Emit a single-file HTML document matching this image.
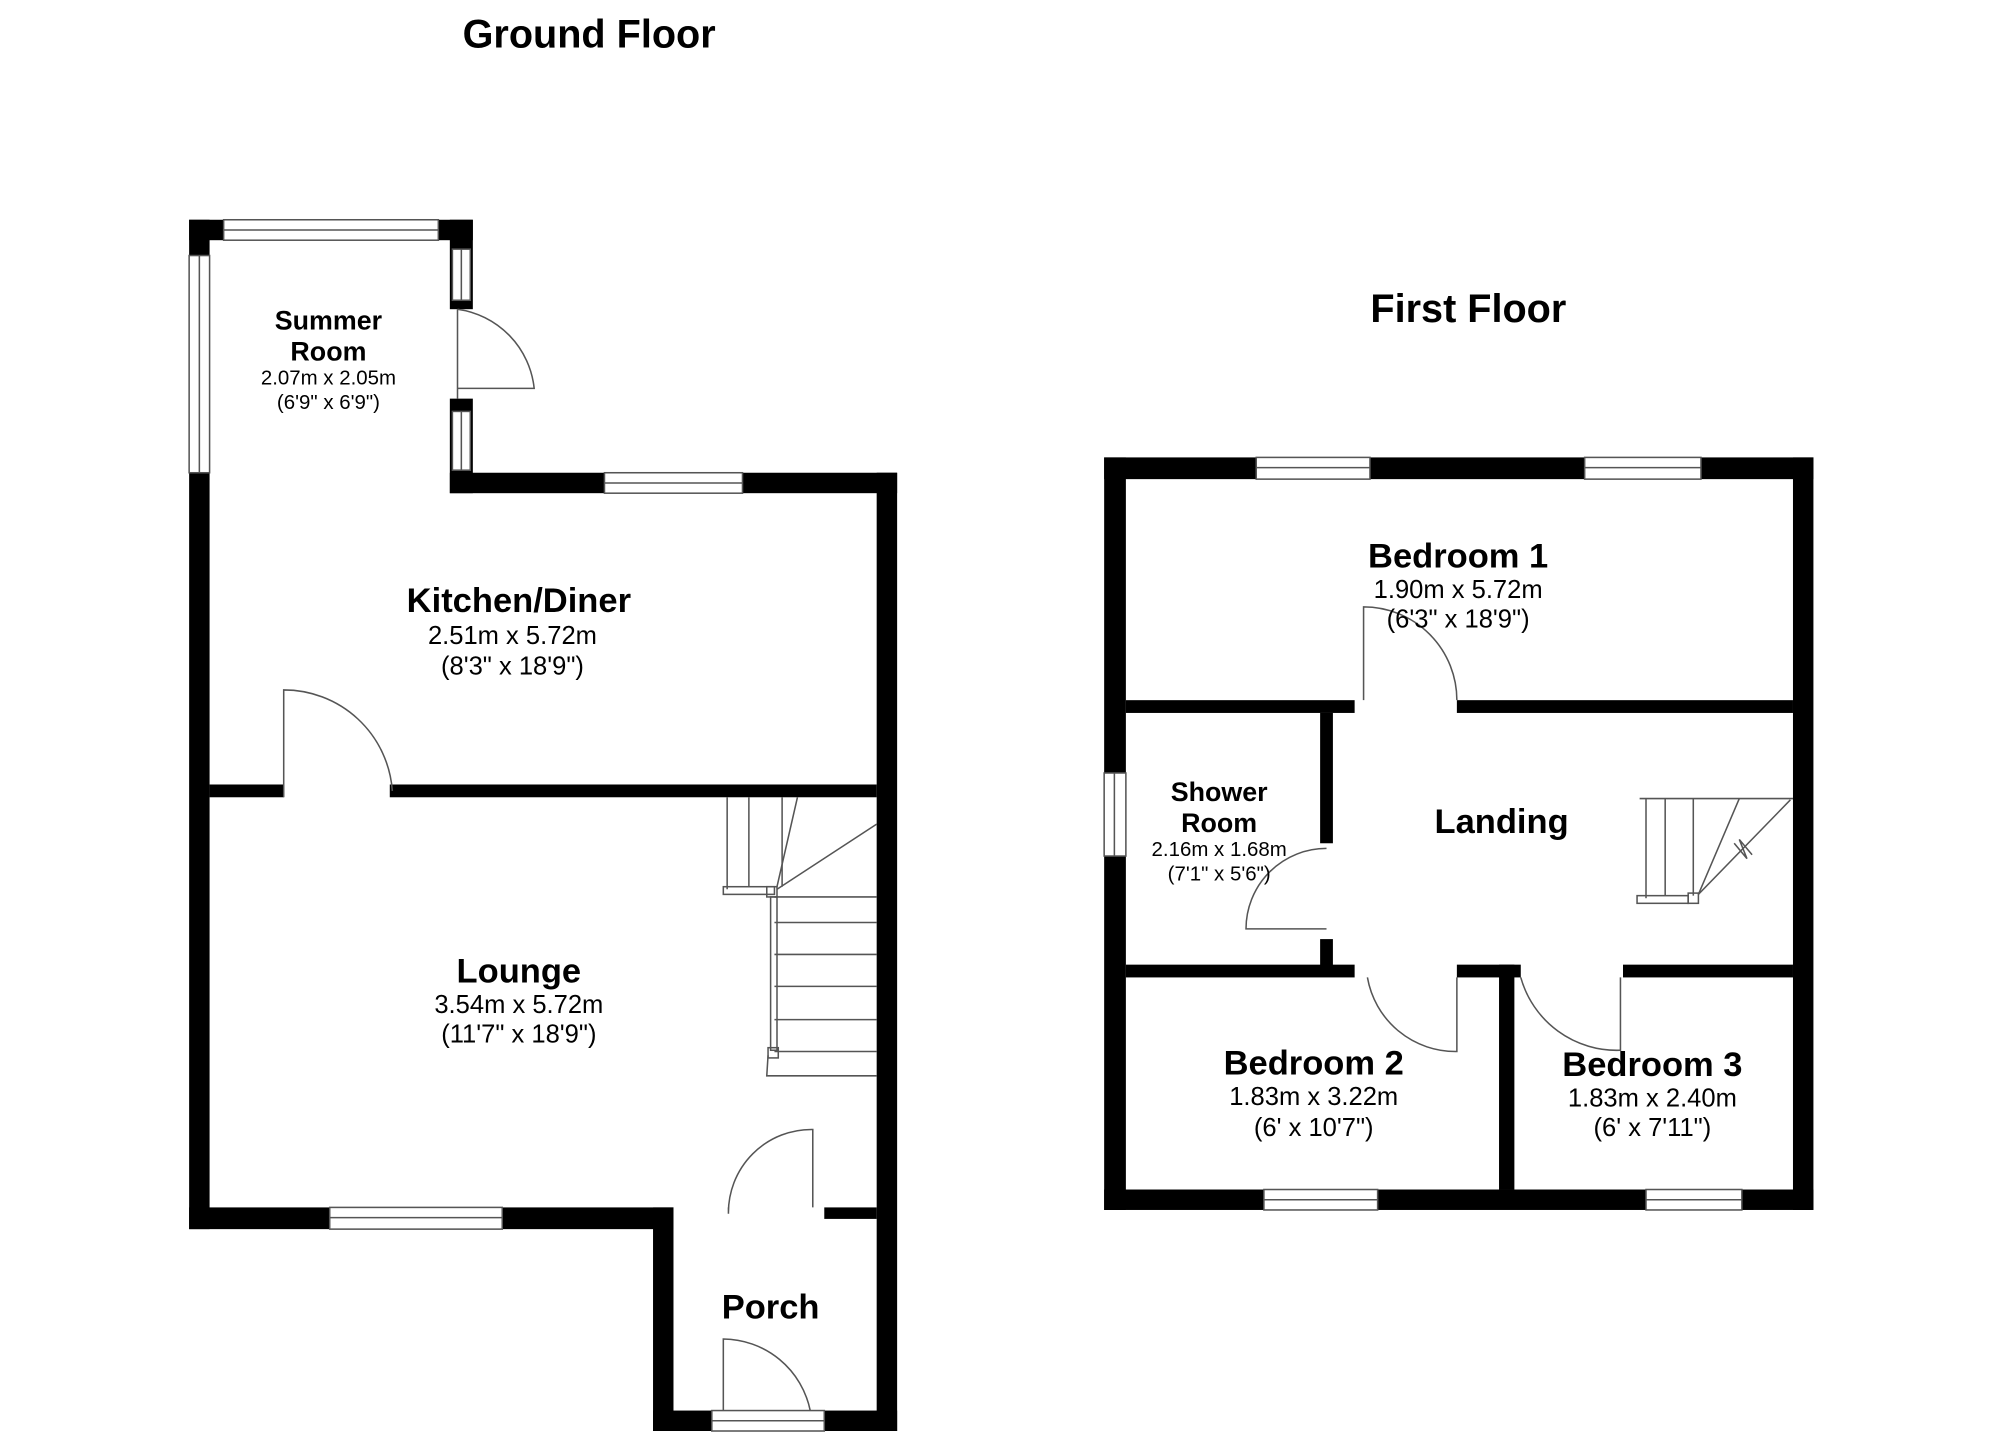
<!DOCTYPE html>
<html><head><style>html,body{margin:0;padding:0;background:#fff}svg{display:block}</style></head>
<body>
<svg width="2000" height="1454" viewBox="0 0 1565 1138" preserveAspectRatio="none" xmlns="http://www.w3.org/2000/svg" font-family="Liberation Sans, Arial, sans-serif">
<rect width="1565" height="1138" fill="#fff"/>
<g fill="#000">
<rect x="148" y="172" width="222" height="16"/>
<rect x="148" y="172" width="16" height="790"/>
<rect x="352" y="172" width="18" height="70"/>
<rect x="352" y="312" width="18" height="74"/>
<rect x="352" y="370" width="350" height="16"/>
<rect x="686" y="370" width="16" height="750"/>
<rect x="164" y="614" width="58" height="10"/>
<rect x="305" y="614" width="381" height="10"/>
<rect x="148" y="945" width="379" height="17"/>
<rect x="511" y="945" width="16" height="175"/>
<rect x="511" y="1104" width="191" height="16"/>
<rect x="645" y="945" width="41" height="9"/>
<rect x="864" y="358" width="555" height="17"/>
<rect x="864" y="931" width="555" height="16"/>
<rect x="864" y="358" width="17" height="589"/>
<rect x="1403" y="358" width="16" height="589"/>
<rect x="881" y="548" width="179" height="10"/>
<rect x="1140" y="548" width="263" height="10"/>
<rect x="1033" y="558" width="10" height="102"/>
<rect x="1033" y="735" width="10" height="25"/>
<rect x="881" y="755" width="179" height="10"/>
<rect x="1140" y="755" width="50" height="10"/>
<rect x="1270" y="755" width="133" height="10"/>
<rect x="1173" y="755" width="12" height="176"/>
</g>
<g fill="#fff" stroke="#555" stroke-width="1.2">
<rect x="175" y="172" width="168" height="16"/><line x1="175" y1="180" x2="343" y2="180"/>
<rect x="148" y="200" width="16" height="170"/><line x1="156" y1="200" x2="156" y2="370"/>
<rect x="354" y="195" width="14" height="40"/><line x1="361" y1="195" x2="361" y2="235"/>
<rect x="354" y="322" width="14" height="46"/><line x1="361" y1="322" x2="361" y2="368"/>
<rect x="473" y="370" width="108" height="16"/><line x1="473" y1="378" x2="581" y2="378"/>
<rect x="258" y="945" width="135" height="17"/><line x1="258" y1="953" x2="393" y2="953"/>
<rect x="557" y="1104" width="88" height="16"/><line x1="557" y1="1112" x2="645" y2="1112"/>
<rect x="983" y="358" width="89" height="17"/><line x1="983" y1="366" x2="1072" y2="366"/>
<rect x="1240" y="358" width="91" height="17"/><line x1="1240" y1="366" x2="1331" y2="366"/>
<rect x="989" y="931" width="89" height="16"/><line x1="989" y1="939" x2="1078" y2="939"/>
<rect x="1288" y="931" width="75" height="16"/><line x1="1288" y1="939" x2="1363" y2="939"/>
<rect x="864" y="605" width="17" height="65"/><line x1="872" y1="605" x2="872" y2="670"/>
</g>
<g fill="none" stroke="#555" stroke-width="1.2">
<path d="M358 242 L358 312 M358 242 A70 70 0 0 1 418 304 L358 304"/>
<path d="M222 624 L222 540 A85 85 0 0 1 307 619"/>
<path d="M570 945 L570 950 A65 65 0 0 1 636 884 L636 945"/>
<path d="M566 1104 L566 1048 A70 70 0 0 1 634 1104"/>
<path d="M1067 548 L1067 475 A73 73 0 0 1 1140 548"/>
<path d="M1038 664 A63 63 0 0 0 975 727 L1038 727"/>
<path d="M1070 765 A70 70 0 0 0 1140 823 L1140 765"/>
<path d="M1190 765 A78 78 0 0 0 1268 822 L1268 765"/>
</g>
<g fill="none" stroke="#555" stroke-width="1.2">
<line x1="569" y1="624" x2="569" y2="696"/>
<line x1="586" y1="624" x2="586" y2="694"/>
<line x1="612" y1="624" x2="612" y2="694"/>
<rect x="566" y="694" width="40" height="6"/>
<rect x="600" y="694" width="8" height="8"/>
<line x1="608" y1="694" x2="624" y2="624"/>
<line x1="608" y1="696" x2="686" y2="645"/>
<line x1="606" y1="702" x2="686" y2="702"/>
<line x1="606" y1="722" x2="686" y2="722"/>
<line x1="606" y1="747" x2="686" y2="747"/>
<line x1="606" y1="772" x2="686" y2="772"/>
<line x1="606" y1="798" x2="686" y2="798"/>
<line x1="606" y1="823" x2="686" y2="823"/>
<rect x="603" y="702" width="5" height="120"/>
<rect x="601" y="820" width="8" height="8"/>
<path d="M601 826 L600 842 L686 842"/>
<line x1="1283" y1="625" x2="1403" y2="625"/>
<line x1="1288" y1="625" x2="1288" y2="703"/>
<line x1="1303" y1="625" x2="1303" y2="701"/>
<line x1="1325" y1="625" x2="1325" y2="701"/>
<rect x="1281" y="701" width="40" height="6"/>
<rect x="1321" y="699" width="8" height="8"/>
<line x1="1329" y1="700" x2="1361" y2="625"/>
<line x1="1329" y1="700" x2="1401" y2="626"/>
<path d="M1357 660 L1367 672 L1361 657 L1371 669"/>
</g>
<g text-anchor="middle" fill="#000">
<text x="461" y="37" font-size="31" font-weight="bold">Ground Floor</text>
<text x="1149" y="252" font-size="31" font-weight="bold">First Floor</text>
<text x="257" y="258" font-size="21" font-weight="bold">Summer</text>
<text x="257" y="282" font-size="21" font-weight="bold">Room</text>
<text x="257" y="301" font-size="16">2.07m x 2.05m</text>
<text x="257" y="320" font-size="16">(6'9" x 6'9")</text>
<text x="406" y="479" font-size="27" font-weight="bold">Kitchen/Diner</text>
<text x="401" y="504" font-size="20">2.51m x 5.72m</text>
<text x="401" y="528" font-size="20">(8'3" x 18'9")</text>
<text x="406" y="769" font-size="27" font-weight="bold">Lounge</text>
<text x="406" y="793" font-size="20">3.54m x 5.72m</text>
<text x="406" y="816" font-size="20">(11'7" x 18'9")</text>
<text x="603" y="1032" font-size="27" font-weight="bold">Porch</text>
<text x="1141" y="444" font-size="27" font-weight="bold">Bedroom 1</text>
<text x="1141" y="468" font-size="20">1.90m x 5.72m</text>
<text x="1141" y="491" font-size="20">(6'3" x 18'9")</text>
<text x="954" y="627" font-size="21" font-weight="bold">Shower</text>
<text x="954" y="651" font-size="21" font-weight="bold">Room</text>
<text x="954" y="670" font-size="16">2.16m x 1.68m</text>
<text x="954" y="689" font-size="16">(7'1" x 5'6")</text>
<text x="1175" y="652" font-size="27" font-weight="bold">Landing</text>
<text x="1028" y="841" font-size="27" font-weight="bold">Bedroom 2</text>
<text x="1028" y="865" font-size="20">1.83m x 3.22m</text>
<text x="1028" y="889" font-size="20">(6' x 10'7")</text>
<text x="1293" y="842" font-size="27" font-weight="bold">Bedroom 3</text>
<text x="1293" y="866" font-size="20">1.83m x 2.40m</text>
<text x="1293" y="889" font-size="20">(6' x 7'11")</text>
</g>
</svg>
</body></html>
